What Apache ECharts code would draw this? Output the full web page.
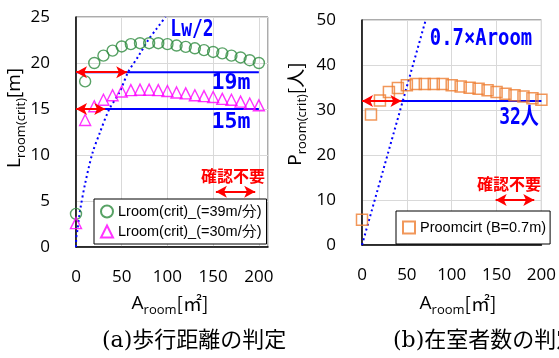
<!DOCTYPE html>
<html><head><meta charset="utf-8">
<script src="https://cdn.jsdelivr.net/npm/echarts@6/dist/echarts.min.js"></script>
<style>html,body{margin:0;padding:0;background:#fff}#c{width:559px;height:358px}</style>
</head><body><div id="c"></div>
<script>
// ---- data ----
const areaX   = [0,10,20,30,40,50,60,70,80,90,100,110,120,130,140,150,160,170,180,190,200];
const lroom39 = [3.6,18.0,20.0,20.8,21.35,21.8,22.05,22.15,22.15,22.15,22.05,21.9,21.75,21.6,21.4,21.2,21.05,20.8,20.6,20.3,20.0];
const lroom30 = [2.6,13.8,15.3,16.0,16.5,16.9,17.05,17.1,17.1,17.05,16.95,16.8,16.7,16.5,16.4,16.3,16.1,16.0,15.8,15.6,15.4];
const proom   = [5.6,29.0,32.1,34.0,34.9,35.5,35.8,35.8,35.8,35.8,35.5,35.2,34.95,34.7,34.4,34.0,33.6,33.3,33.0,32.6,32.3];
const lw2X    = [0,0.3,1.5,4.5,10,18,26,36,48,57,68,79,88,98];
const lw2Y    = [0,1.0,1.8,4.0,6.9,10.2,12.4,14.9,16.9,19.0,20.7,22.5,23.7,25];
const occX    = [0,71];
const occY    = [0,50];
const lLimits = [19,15];          // horizontal limit lines (m)
const lArrowEnd = [56,32];        // red arrow ends on those lines
const pLimit  = 32;               // 人
const pArrowEnd = 44;
const limitXEnd = 200;
const noCheckL = {y:6, x:[153,196]};
const noCheckP = {y:10, x:[149,192]};
const xTicks = [0,50,100,150,200];
const nameL39 = 'Lroom(crit)_(=39m/分)';
const nameL30 = 'Lroom(crit)_(=30m/分)';
const nameP   = 'Proomcirt (B=0.7m)';

const NUMF = 'Open Sans';
const BLUE = '#0000ff', RED = '#ff0000';
const zip = (xs, ys) => xs.map((x,i)=>[x, ys[i]]);

const chart = echarts.init(document.getElementById('c'), null, {renderer:'canvas'});

function xAxis(gi, max){
  return {type:'value', gridIndex:gi, min:0, max:max, interval:50,
    axisLine:{show:true, onZero:false, lineStyle:{color:'#000', width:1.5}},
    axisTick:{show:false},
    splitLine:{show:true, lineStyle:{color:'#d9d9d9', width:1}},
    axisLabel:{margin:22, fontFamily:NUMF, fontSize:17, color:'#000', showMaxLabel: max===200, showMinLabel:true}};
}
function yAxis(gi, max, itv){
  return {type:'value', gridIndex:gi, min:0, max:max, interval:itv,
    axisLine:{show:true, onZero:false, lineStyle:{color:'#000', width:1.5}},
    axisTick:{show:false},
    splitLine:{show:true, lineStyle:{color:'#d9d9d9', width:1}},
    axisLabel:{margin:26, fontFamily:NUMF, fontSize:17, color:'#000'}};
}
const arrowML = (pairs) => ({
  silent:true, symbol:['arrow','arrow'], symbolSize:[9,11],
  lineStyle:{color:RED, width:2, type:'solid'}, label:{show:false},
  emphasis:{disabled:true},
  data: pairs.map(p=>[{coord:p[0]},{coord:p[1]}])
});

const rich = {
  a:{fontFamily:NUMF, fontSize:19, color:'#000', lineHeight:26, verticalAlign:'middle'},
  s:{fontFamily:NUMF, fontSize:13, color:'#000', lineHeight:13, verticalAlign:'bottom'},
  j:{fontFamily:'Noto Sans CJK JP', fontSize:19, color:'#000', lineHeight:26, verticalAlign:'middle'}
};
const monoLabel = (text, x, y, color, sx, sy, size) => ({
  type:'text', x:x, y:y, scaleX:sx, scaleY:sy, z:50,
  style:{text:text, fill:color, font:'bold '+size+'px "DejaVu Sans Mono", "Noto Sans CJK JP"', align:'center', verticalAlign:'middle'}
});

chart.setOption({
  animation:false,
  backgroundColor:'#fff',
  grid:[
    {left:76, top:17, width:192, height:230, show:true, borderColor:'#595959', borderWidth:1, containLabel:false},
    {left:362, top:20, width:181, height:225, show:true, borderColor:'#595959', borderWidth:1, containLabel:false}
  ],
  xAxis:[xAxis(0,210), xAxis(1,200)],
  yAxis:[yAxis(0,25,5), yAxis(1,50,10)],
  legend:[
    {data:[nameL39, nameL30], left:94, top:199, orient:'vertical', itemWidth:12, itemHeight:12, itemGap:5,
     padding:[5,5,5,6], selectedMode:false, backgroundColor:'#fff', borderColor:'#000', borderWidth:1,
     textStyle:{fontFamily:'Liberation Sans', fontSize:14.5, color:'#000'}, z:20},
    {data:[nameP], left:396, top:211, orient:'vertical', itemWidth:12, itemHeight:12,
     padding:[9,4,9,6], selectedMode:false, backgroundColor:'#fff', borderColor:'#000', borderWidth:1,
     textStyle:{fontFamily:'Liberation Sans', fontSize:14.5, color:'#000'}, z:20}
  ],
  series:[
    {type:'line', name:'Lw/2', xAxisIndex:0, yAxisIndex:0, data:zip(lw2X,lw2Y), smooth:0.3, showSymbol:false, symbol:'none',
     lineStyle:{color:BLUE, width:2, type:[2,3]}, z:3, silent:true},
    {type:'line', name:'lim19', xAxisIndex:0, yAxisIndex:0, data:[[0,lLimits[0]],[limitXEnd,lLimits[0]]], symbol:'none',
     lineStyle:{color:BLUE, width:2}, z:3, silent:true},
    {type:'line', name:'lim15', xAxisIndex:0, yAxisIndex:0, data:[[0,lLimits[1]],[limitXEnd,lLimits[1]]], symbol:'none',
     lineStyle:{color:BLUE, width:2}, z:3, silent:true},
    {type:'scatter', name:nameL39, xAxisIndex:0, yAxisIndex:0, data:zip(areaX,lroom39), symbol:'circle', symbolSize:11,
     itemStyle:{color:'rgba(0,0,0,0)', borderColor:'#2e8b3e', borderWidth:1.4}, z:4},
    {type:'scatter', name:nameL30, xAxisIndex:0, yAxisIndex:0, data:zip(areaX,lroom30), symbol:'triangle', symbolSize:11,
     itemStyle:{color:'rgba(0,0,0,0)', borderColor:'#ff00ff', borderWidth:1.4}, z:4},
    {type:'line', name:'arrL', xAxisIndex:0, yAxisIndex:0, data:[], symbol:'none', z:6,
     markLine:arrowML([[[0,lLimits[0]],[lArrowEnd[0],lLimits[0]]],[[0,lLimits[1]],[lArrowEnd[1],lLimits[1]]],[[noCheckL.x[0],noCheckL.y],[noCheckL.x[1],noCheckL.y]]])},

    {type:'line', name:'occ', xAxisIndex:1, yAxisIndex:1, data:zip(occX,occY), showSymbol:false, symbol:'none',
     lineStyle:{color:BLUE, width:2, type:[2,3]}, z:3, silent:true},
    {type:'line', name:'lim32', xAxisIndex:1, yAxisIndex:1, data:[[0,pLimit],[limitXEnd,pLimit]], symbol:'none',
     lineStyle:{color:BLUE, width:2}, z:3, silent:true},
    {type:'scatter', name:nameP, xAxisIndex:1, yAxisIndex:1, data:zip(areaX,proom), symbol:'rect', symbolSize:11,
     itemStyle:{color:'rgba(0,0,0,0)', borderColor:'#ed7d31', borderWidth:1.5}, z:4},
    {type:'line', name:'arrP', xAxisIndex:1, yAxisIndex:1, data:[], symbol:'none', z:6,
     markLine:arrowML([[[0,pLimit],[pArrowEnd,pLimit]],[[noCheckP.x[0],noCheckP.y],[noCheckP.x[1],noCheckP.y]]])}
  ],
  graphic:[
    // axis names
    {type:'text', x:15, y:118, rotation:Math.PI/2, z:50,
     style:{text:'{a|L}{s|room(crit)}{a|[m]}', rich:rich, align:'center', verticalAlign:'middle'}},
    {type:'text', x:296, y:114, rotation:Math.PI/2, z:50,
     style:{text:'{a|P}{s|room(crit)}{j|[人]}', rich:rich, align:'center', verticalAlign:'middle'}},
    {type:'text', x:170, y:304, z:50,
     style:{text:'{a|A}{s|room}{j|[㎡]}', rich:rich, align:'center', verticalAlign:'middle'}},
    {type:'text', x:458, y:304, z:50,
     style:{text:'{a|A}{s|room}{j|[㎡]}', rich:rich, align:'center', verticalAlign:'middle'}},
    // captions
    {type:'text', x:102, y:341, z:50,
     style:{text:'(a)歩行距離の判定', font:'22px "DejaVu Serif", "Noto Sans CJK JP"', fill:'#000', align:'left', verticalAlign:'middle'}},
    {type:'text', x:393, y:341, z:50,
     style:{text:'(b)在室者数の判定', font:'22px "DejaVu Serif", "Noto Sans CJK JP"', fill:'#000', align:'left', verticalAlign:'middle'}},
    // annotations
    monoLabel('Lw/2', 192, 30, BLUE, 1, 1.3, 18),
    monoLabel('19m', 231, 83, BLUE, 1.2, 1.2, 18),
    monoLabel('15m', 231, 122, BLUE, 1.2, 1.2, 18),
    monoLabel('0.7×Aroom', 481, 38.5, BLUE, 1.05, 1.3, 18),
    monoLabel('32人', 519, 117.5, BLUE, 1, 1.3, 18),
    {type:'text', x:233, y:176, z:50,
     style:{text:'確認不要', font:'bold 16px "Noto Sans CJK JP"', fill:RED, align:'center', verticalAlign:'middle'}},
    {type:'text', x:509, y:184, z:50,
     style:{text:'確認不要', font:'bold 16px "Noto Sans CJK JP"', fill:RED, align:'center', verticalAlign:'middle'}}
  ]
});
</script></body></html>
